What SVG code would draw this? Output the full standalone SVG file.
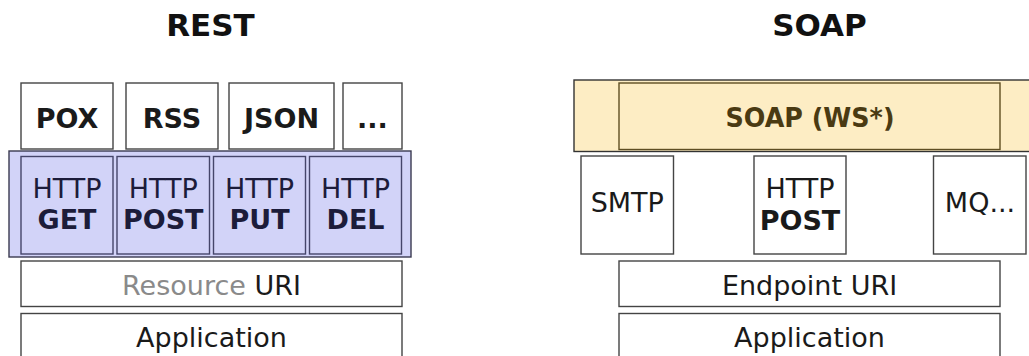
<svg xmlns="http://www.w3.org/2000/svg" width="1029" height="356" viewBox="0 0 1029 356">
<style>
  text { font-family: "DejaVu Sans", "Liberation Sans", sans-serif; text-anchor: middle; font-size: 27px; fill: #1a1a1a; }
  .b { font-weight: bold; }
  .title { font-size: 31px; font-weight: bold; fill: #111; }
  .box { fill: #ffffff; stroke: #444444; stroke-width: 1.4; }
  .blueOuter { fill: #d2d3f8; stroke: #3a3a50; stroke-width: 1.4; }
  .blueIn { fill: #d2d3f8; stroke: #45456a; stroke-width: 1.4; }
  .blueTxt { fill: #1c1c3a; }
  .yelOuter { fill: #fdedc4; stroke: #333333; stroke-width: 1.4; }
  .yelIn { fill: #fdedc4; stroke: #5e4e22; stroke-width: 1.4; }
  .yelTxt { fill: #4a3a12; font-weight: bold; }
  .gray { fill: #8a8a8a; }
</style>

<g id="title-rest"><text class="title" x="210.5" y="36">REST</text></g>
<g id="title-soap"><text class="title" x="819.5" y="36">SOAP</text></g>

<!-- REST stack -->
<g id="pox"><rect class="box" x="21" y="83" width="92" height="66"/><text class="b" x="67" y="128">POX</text></g>
<g id="rss"><rect class="box" x="126" y="83" width="92" height="66"/><text class="b" x="172" y="128">RSS</text></g>
<g id="json"><rect class="box" x="229" y="83" width="105" height="66"/><text class="b" x="281.5" y="128">JSON</text></g>
<g id="etc"><rect class="box" x="343" y="83" width="59" height="66"/><text class="b" x="372.5" y="128">...</text></g>

<g id="http-layer">
  <rect class="blueOuter" x="9" y="151" width="402" height="106"/>
</g>
<g id="http-get"><rect class="blueIn" x="21" y="156.5" width="92" height="97.5"/><text class="blueTxt" x="67" y="197.5">HTTP</text><text class="blueTxt b" x="67" y="229">GET</text></g>
<g id="http-post"><rect class="blueIn" x="117" y="156.5" width="92.5" height="97.5"/><text class="blueTxt" x="163.2" y="197.5">HTTP</text><text class="blueTxt b" x="163.2" y="229">POST</text></g>
<g id="http-put"><rect class="blueIn" x="213.5" y="156.5" width="92" height="97.5"/><text class="blueTxt" x="259.5" y="197.5">HTTP</text><text class="blueTxt b" x="259.5" y="229">PUT</text></g>
<g id="http-del"><rect class="blueIn" x="309.5" y="156.5" width="92" height="97.5"/><text class="blueTxt" x="355.5" y="197.5">HTTP</text><text class="blueTxt b" x="355.5" y="229">DEL</text></g>

<g id="resource-uri"><rect class="box" x="21" y="261" width="381" height="45.5"/><text x="211.5" y="295"><tspan class="gray">Resource</tspan> URI</text></g>
<g id="rest-app"><rect class="box" x="21" y="313.5" width="381" height="60"/><text x="211.5" y="346.5">Application</text></g>

<!-- SOAP stack -->
<g id="soap-layer"><rect class="yelOuter" x="574" y="80" width="470" height="71.5"/></g>
<g id="soap-ws"><rect class="yelIn" x="619" y="83" width="381" height="66.5"/><text class="yelTxt" x="810" y="126.7" textLength="169" lengthAdjust="spacingAndGlyphs">SOAP (WS*)</text></g>

<g id="smtp"><rect class="box" x="581" y="156" width="92.5" height="98"/><text x="627.3" y="211.7">SMTP</text></g>
<g id="soap-http-post"><rect class="box" x="754" y="156" width="92" height="98"/><text x="800" y="198">HTTP</text><text class="b" x="800" y="230">POST</text></g>
<g id="mq"><rect class="box" x="933.5" y="156" width="92.5" height="98"/><text x="980" y="212">MQ...</text></g>

<g id="endpoint-uri"><rect class="box" x="619" y="261" width="381" height="45.5"/><text x="809.5" y="295">Endpoint URI</text></g>
<g id="soap-app"><rect class="box" x="619" y="313.5" width="381" height="60"/><text x="809.5" y="346.5">Application</text></g>
</svg>
